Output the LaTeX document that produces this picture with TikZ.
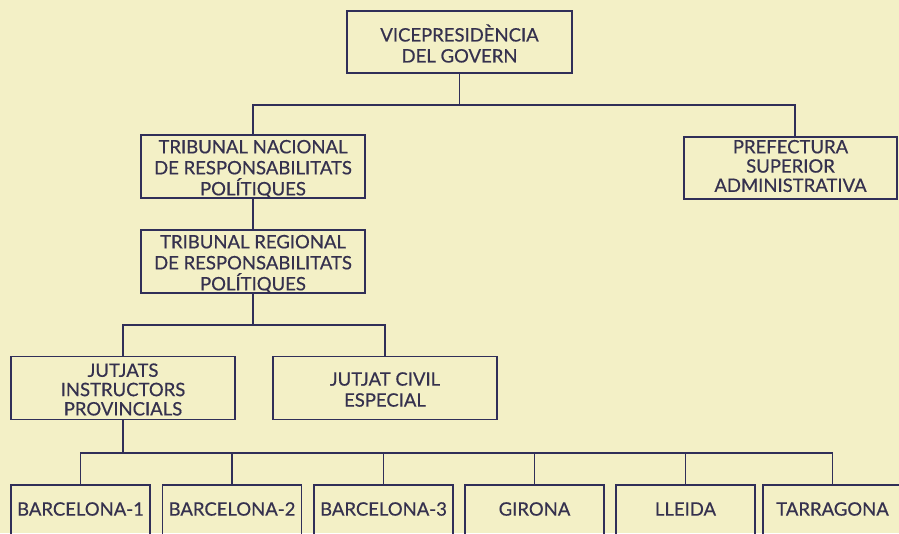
\documentclass[tikz,border=0pt]{standalone}
\usepackage{fontspec}
\setmainfont[FakeBold=0.5]{Lato}
\definecolor{bg}{HTML}{F3F0C6}
\definecolor{ln}{HTML}{302F58}
\definecolor{tx}{HTML}{35314E}
\begin{document}
\begin{tikzpicture}[x=1pt,y=-1pt,
  box/.style={draw=ln, line width=1.9pt, fill=none, inner sep=0pt},
  lbl/.style={text=tx, align=center, inner sep=0pt, font=\fontsize{18.5}{21}\selectfont},
  tight/.style={font=\fontsize{18.5}{19.3}\selectfont},
  conn/.style={draw=ln, line width=1.9pt}]
\fill[bg] (0,0) rectangle (899,533);
\useasboundingbox (0,0) rectangle (899,533);
\clip (0,0) rectangle (899,533);
\node[box, minimum width=225, minimum height=62] (vp) at (459.5,42) {};
\node[box, minimum width=224, minimum height=63] (tn) at (253,166.5) {};
\node[box, minimum width=224, minimum height=63] (tr) at (253,261.5) {};
\node[box, minimum width=213, minimum height=62] (ps) at (790.5,168) {};
\node[box, minimum width=224, minimum height=63] (ji) at (123,388) {};
\node[box, minimum width=224, minimum height=63] (jc) at (385,388) {};
\node[lbl] (vpt) at ([yshift=-1.5pt]vp.center) {VICEPRESIDÈNCIA\\DEL GOVERN};
\node[lbl] (tnt) at ([yshift=-2.5pt]tn.center) {TRIBUNAL NACIONAL\\DE RESPONSABILITATS\\POLÍTIQUES};
\node[lbl] (trt) at ([yshift=-2.5pt]tr.center) {TRIBUNAL REGIONAL\\DE RESPONSABILITATS\\POLÍTIQUES};
\node[lbl, tight] (pst) at ([yshift=2pt]ps.center) {PREFECTURA\\SUPERIOR\\ADMINISTRATIVA};
\node[lbl, tight] (jit) at ([yshift=-1.5pt]ji.center) {JUTJATS\\INSTRUCTORS\\PROVINCIALS};
\node[lbl] (jct) at ([yshift=-1.5pt]jc.center) {JUTJAT CIVIL\\ESPECIAL};
\foreach \n/\x/\t in {b1/80.5/BARCELONA-1, b2/232/BARCELONA-2, b3/383.5/BARCELONA-3, gi/534.5/GIRONA, ll/685.5/LLEIDA, ta/832.5/TARRAGONA}{
  \node[box, minimum width=139, minimum height=50] (\n) at (\x,510) {};
  \node[lbl] (\n t) at ([yshift=1pt]\n.center) {\t};
}
\coordinate (bus1) at (0,105);
\coordinate (bus2) at (0,325);
\coordinate (bus3) at (0,453);
\coordinate (psin) at ([xshift=4.5pt]ps.north);
\draw[conn] (vp.south) -- (vp.south |- bus1);
\draw[conn] (tn.north) |- (psin |- bus1) -- (psin);
\draw[conn] (tn.south) -- (tr.north);
\draw[conn] (tr.south) -- (tr.south |- bus2);
\draw[conn] (ji.north) |- (jc.north |- bus2) -- (jc.north);
\draw[conn] (ji.south) -- (ji.south |- bus3);
\draw[conn] (b1.north) |- (ta.north |- bus3) -- (ta.north);
\foreach \n in {b2,b3,gi,ll}
  \draw[conn] (\n.north) -- (\n.north |- bus3);
\end{tikzpicture}
\end{document}
